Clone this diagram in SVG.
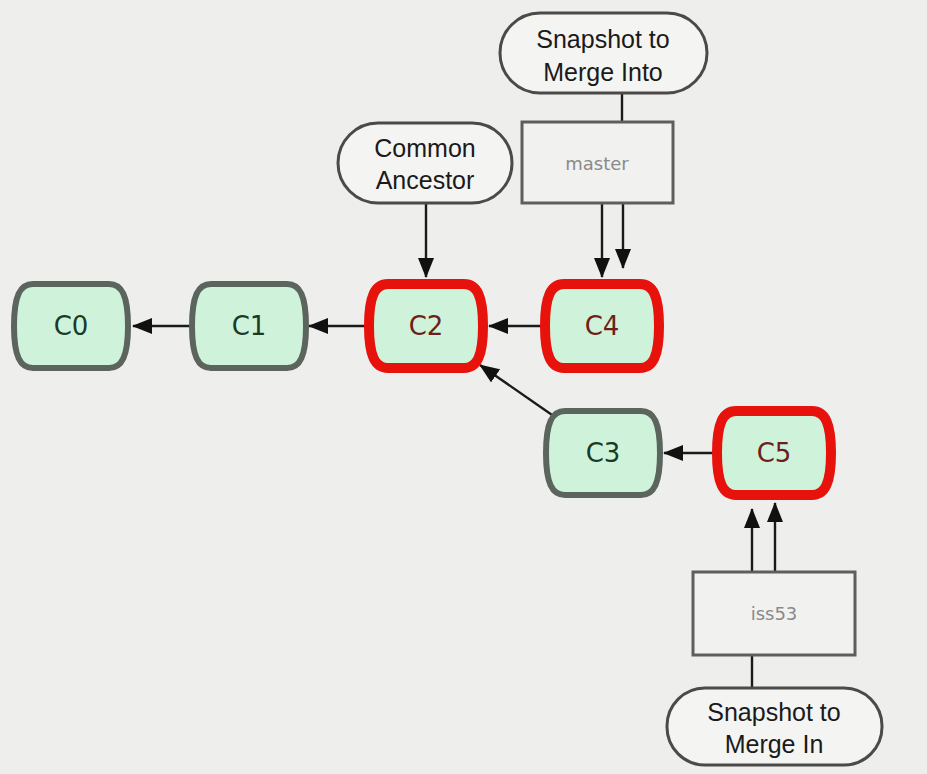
<svg xmlns="http://www.w3.org/2000/svg" width="927" height="774" viewBox="0 0 927 774">
<defs>
<style>
.bg{fill:#eeeeec}
.commit use{fill:#cff3da;stroke:#5c645e;stroke-width:6}
.commit.hl use{stroke:#e8120c;stroke-width:10}
.commit text{font-family:"DejaVu Sans",sans-serif;font-size:26px;fill:#1b3a25;text-anchor:middle}
.commit.hl text{fill:#6e1f1a}
.pill rect{fill:#f4f4f2;stroke:#4a4a4a;stroke-width:3}
.pill text{font-family:"Liberation Sans",Arial,sans-serif;font-size:25px;fill:#1a1a1a;text-anchor:middle}
.branch rect{fill:#f1f1ef;stroke:#5e5e5e;stroke-width:3}
.branch text{font-family:"DejaVu Sans",sans-serif;font-size:18px;fill:#8a8a8a;text-anchor:middle}
.conn line{stroke:#1a1a1a;stroke-width:2.4;fill:none}
.conn line.arr{marker-end:url(#ah)}
</style>
<marker id="ah" viewBox="0 0 20 16" refX="19" refY="8" markerWidth="20" markerHeight="16" markerUnits="userSpaceOnUse" orient="auto">
<path d="M0,0 L20,8 L0,16 z" fill="#111"/>
</marker>
<path id="shape" d="M-38,-42 H38 C51,-42 57,-30 57,0 C57,30 51,42 38,42 H-38 C-51,42 -57,30 -57,0 C-57,-30 -51,-42 -38,-42 Z"/>
</defs>
<rect class="bg" x="0" y="0" width="927" height="774"/>

<g id="connectors" class="conn">
<line class="arr" x1="193" y1="326" x2="133" y2="326"/>
<line class="arr" x1="367" y1="326" x2="309" y2="326"/>
<line class="arr" x1="543" y1="326" x2="489" y2="326"/>
<line class="arr" x1="715" y1="453" x2="664" y2="453"/>
<line class="arr" x1="555" y1="417" x2="480" y2="365"/>
<line class="arr" x1="426" y1="203" x2="426" y2="277"/>
<line x1="622" y1="93" x2="622" y2="122"/>
<line class="arr" x1="602" y1="203" x2="602" y2="277"/>
<line class="arr" x1="623" y1="203" x2="623" y2="268"/>
<line class="arr" x1="752" y1="572" x2="752" y2="509"/>
<line class="arr" x1="775" y1="572" x2="775" y2="503"/>
<line x1="752" y1="655" x2="752" y2="688"/>
</g>

<g id="C0" class="commit"><use href="#shape" x="71" y="326"/><text x="71" y="335">C0</text></g>
<g id="C1" class="commit"><use href="#shape" x="249" y="326"/><text x="249" y="335">C1</text></g>
<g id="C2" class="commit hl"><use href="#shape" x="426" y="326"/><text x="426" y="335">C2</text></g>
<g id="C4" class="commit hl"><use href="#shape" x="602" y="326"/><text x="602" y="335">C4</text></g>
<g id="C3" class="commit"><use href="#shape" x="603" y="453"/><text x="603" y="462">C3</text></g>
<g id="C5" class="commit hl"><use href="#shape" x="774" y="453"/><text x="774" y="462">C5</text></g>

<g id="common-ancestor" class="pill"><rect x="338" y="123" width="174" height="80" rx="40"/><text x="425" y="157">Common</text><text x="425" y="189">Ancestor</text></g>
<g id="merge-into" class="pill"><rect x="500" y="13" width="207" height="80" rx="40"/><text x="603" y="48">Snapshot to</text><text x="603" y="81">Merge Into</text></g>
<g id="merge-in" class="pill"><rect x="667" y="688" width="215" height="77" rx="38"/><text x="774" y="721">Snapshot to</text><text x="774" y="753">Merge In</text></g>

<g id="master" class="branch"><rect x="522" y="122" width="151" height="81"/><text x="597" y="170">master</text></g>
<g id="iss53" class="branch"><rect x="693" y="572" width="162" height="83"/><text x="774" y="620">iss53</text></g>
</svg>
